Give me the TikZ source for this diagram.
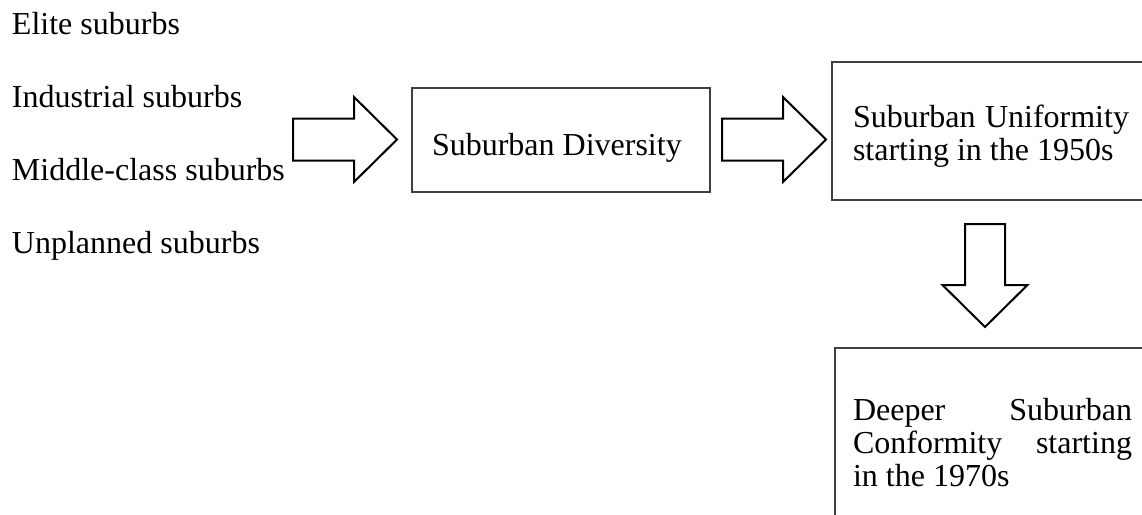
\documentclass[tikz,border=0pt]{standalone}
\usepackage{fontspec}
\setmainfont{Liberation Serif}
\tikzset{
  every node/.style={inner sep=0pt, outer sep=0pt},
  txt/.style={font=\fontsize{32}{33}\selectfont, anchor=base west},
  boxed/.style={draw=black!75, line width=1.2pt, fill=white, rectangle},
  blockarrow/.style={draw=black, line width=2pt, line join=miter, fill=white},
  pics/harrow/.style={code={
    \draw[blockarrow] (0,-21) -- (61,-21) -- (61,-42.5) -- (104,0)
      -- (61,42.5) -- (61,21) -- (0,21) -- cycle;}},
  pics/varrow/.style={code={
    \draw[blockarrow] (-20,0) -- (20,0) -- (20,61) -- (42.5,61) -- (0,103)
      -- (-42.5,61) -- (-20,61) -- cycle;}}
}
\begin{document}
\begin{tikzpicture}[x=1pt, y=-1pt]
\useasboundingbox (0,0) rectangle (1142,514);
\clip (0,0) rectangle (1142,514);

% kinds of suburbs
\node[txt] (elite) at (12,34) {Elite suburbs};
\node[txt] (industrial) at (12,107) {Industrial suburbs};
\node[txt] (middle) at (12,180) {Middle-class suburbs};
\node[txt] (unplanned) at (12,253) {Unplanned suburbs};

% stage boxes
\node[boxed, minimum width=298pt, minimum height=104pt] (diversity) at (561,140) {};
\node[txt] (diversityt) at (432,155) {Suburban Diversity};

\node[boxed, minimum width=330pt, minimum height=138pt] (uniformity) at (997,131) {};
\node[txt] (uniformityt) at (853,127) {\parbox[t]{276pt}{%
  \makebox[\linewidth][s]{Suburban Uniformity}\\
  starting in the 1950s}};

\node[boxed, minimum width=330pt, minimum height=190pt] (conformity) at (1000,443) {};
\node[txt] (conformityt) at (853,420) {\parbox[t]{279pt}{%
  \makebox[\linewidth][s]{Deeper Suburban}\\
  \makebox[\linewidth][s]{Conformity starting}\\
  in the 1970s}};

% block arrows between the stages
\coordinate (a1) at (293,139.5);
\coordinate (a2) at (722,139.5);
\coordinate (a3) at (985,224);
\pic at (a1) {harrow};
\pic at (a2) {harrow};
\pic at (a3) {varrow};
\end{tikzpicture}
\end{document}
